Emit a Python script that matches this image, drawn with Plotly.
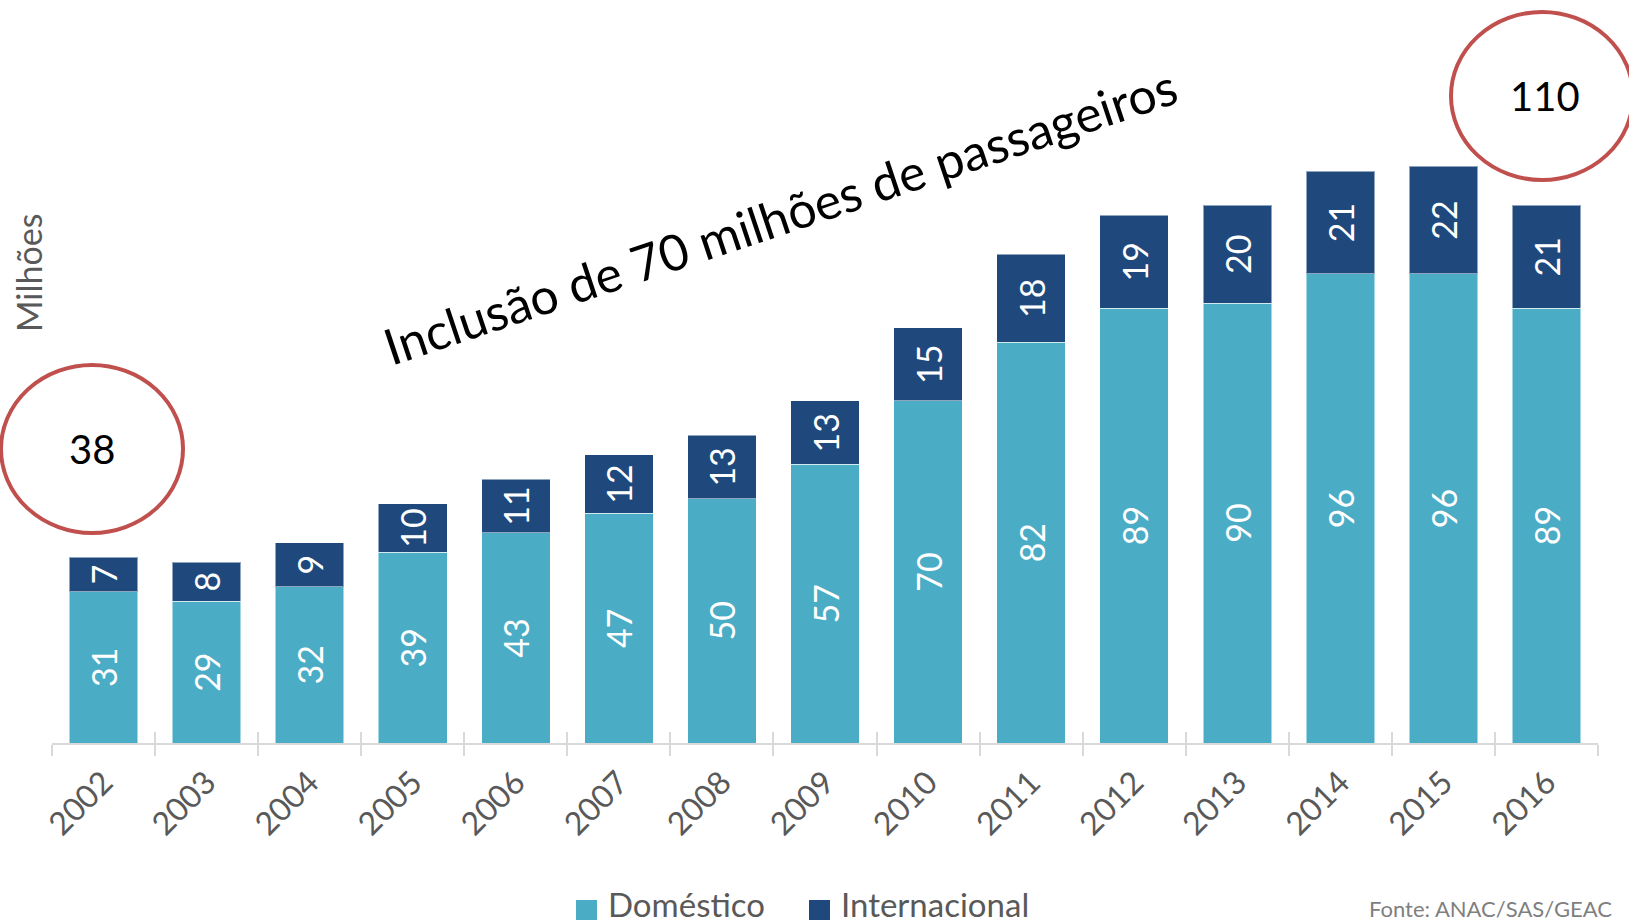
import plotly.graph_objects as go

# passageiros (milhões) por ano
years = ["2002", "2003", "2004", "2005", "2006", "2007", "2008", "2009",
         "2010", "2011", "2012", "2013", "2014", "2015", "2016"]
domestico = [31, 29, 32, 39, 43, 47, 50, 57, 70, 82, 89, 90, 96, 96, 89]
internacional = [7, 8, 9, 10, 11, 12, 13, 13, 15, 18, 19, 20, 21, 22, 21]

# totais destacados nos círculos
total_inicio = "38"
total_fim = "110"

COR_DOM = "#4BACC6"
COR_INT = "#1F497D"
COR_CIRCULO = "#C0504D"
CINZA = "#595959"
FONTE = "Lato, 'Open Sans', sans-serif"

W, H = 1629, 924
ML, MR, MT, MB = 52, 31, 10, 181
PW, PH = W - ML - MR, H - MT - MB


def px(x, y):
    """pixel da página -> coordenadas paper"""
    return (x - ML) / PW, (H - MB - y) / PH


fig = go.Figure()

for nome, valores, cor in [("Doméstico", domestico, COR_DOM),
                           ("Internacional", internacional, COR_INT)]:
    fig.add_trace(go.Bar(
        x=years, y=valores, name=nome,
        marker=dict(color=cor, line=dict(color="rgba(255,255,255,0.5)", width=1)),
        text=valores, textposition="inside", insidetextanchor="middle",
        textangle=-90, constraintext="none",
        textfont=dict(color="white", size=34, family=FONTE),
        showlegend=False, hoverinfo="x+y",
    ))

# eixo sobreposto só para as marcas de divisão acima da linha
fig.add_trace(go.Scatter(
    x=years, y=[None] * len(years), xaxis="x2", mode="markers",
    showlegend=False, hoverinfo="skip",
))

fig.update_layout(
    width=W, height=H,
    margin=dict(l=ML, r=MR, t=MT, b=MB),
    barmode="stack", bargap=0.335,
    plot_bgcolor="white", paper_bgcolor="white",
    font=dict(family=FONTE, color=CINZA),
    showlegend=False,
    xaxis=dict(
        type="category", range=[-0.5, 14.5], automargin=False,
        showline=True, linecolor="#D9D9D9", linewidth=2,
        ticks="outside", tickson="boundaries", ticklen=11,
        tickcolor="#D9D9D9", tickwidth=2, ticklabelstandoff=6,
        tickangle=-45, tickfont=dict(size=32, color=CINZA),
        showgrid=False,
    ),
    xaxis2=dict(
        type="category", range=[-0.5, 14.5], overlaying="x", anchor="y",
        side="bottom", ticks="inside", tickson="boundaries", ticklen=11,
        tickcolor="#D9D9D9", tickwidth=2, showticklabels=False,
        showgrid=False, showline=False, automargin=False,
    ),
    yaxis=dict(range=[0, 150], visible=False, automargin=False),
)

# legenda desenhada à mão (quadrados maiores que os do plotly)
for nome, cor, xq in [("Doméstico", COR_DOM, 576), ("Internacional", COR_INT, 809)]:
    a0, b1 = px(xq, 900)
    a1, b0 = px(xq + 21, 920)
    fig.add_shape(type="rect", xref="paper", yref="paper",
                  x0=a0, x1=a1, y0=b0, y1=b1, fillcolor=cor, line_width=0)
    tx, ty = px(xq + 30, 904)
    fig.add_annotation(text=nome, xref="paper", yref="paper", x=tx, y=ty,
                       xanchor="left", yanchor="middle", showarrow=False,
                       font=dict(size=33, color=CINZA))

# círculos de destaque
for (x0, y0, x1, y1) in [(1, 365, 183, 533), (1451, 12, 1633, 180)]:
    a0, b1 = px(x0, y0)
    a1, b0 = px(x1, y1)
    fig.add_shape(type="circle", xref="paper", yref="paper",
                  x0=a0, x1=a1, y0=b0, y1=b1,
                  line=dict(color=COR_CIRCULO, width=4))

anots = [
    (total_inicio, 92, 449, 40, "black", 0),
    (total_fim, 1545, 96, 40, "black", 0),
    ("Inclusão de 70 milhões de passageiros", 780, 216, 50, "black", -18.5),
    ("Milhões", 28, 273, 34, CINZA, -90),
]
for texto, x, y, tam, cor, ang in anots:
    ax, ay = px(x, y)
    fig.add_annotation(text=texto, xref="paper", yref="paper", x=ax, y=ay,
                       xanchor="center", yanchor="middle", showarrow=False,
                       textangle=ang, font=dict(size=tam, color=cor))

fx, fy = px(1614, 908)
fig.add_annotation(text="Fonte: ANAC/SAS/GEAC", xref="paper", yref="paper",
                   x=fx, y=fy, xanchor="right", yanchor="middle",
                   showarrow=False, font=dict(size=22, color="#7F7F7F"))

# tira a margem padrão do <body> para a figura ocupar a janela inteira
fig.write_html("out.html",
               config={"displayModeBar": False},
               post_script="document.body.style.margin='0';"
                           "document.body.style.overflow='hidden';")
